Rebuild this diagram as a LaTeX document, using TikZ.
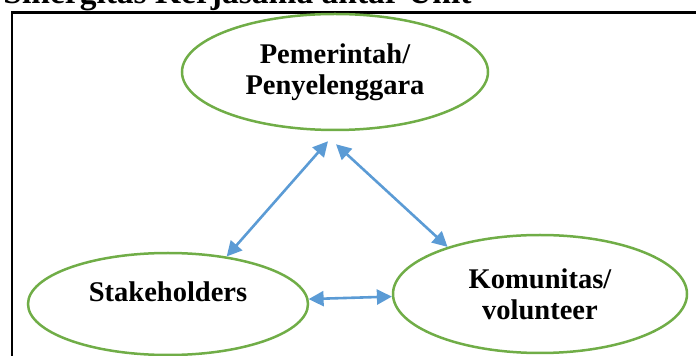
\documentclass[tikz,border=0pt]{standalone}
\usepackage{fontspec}
\setmainfont{Liberation Serif}
\usetikzlibrary{shapes.geometric,arrows.meta,calc}
\definecolor{ellGreen}{HTML}{70AD47}
\definecolor{arrBlue}{HTML}{5B9BD5}
\def\lineThickness{(2.6pt)}
\def\fScale{\fontsize{28.5}{31}\selectfont\bfseries}
\def\tipLen{15pt}
\tikzset{party/.style={draw=ellGreen,line width=2.5pt,ellipse,inner sep=0,align=center,font=\fScale}}
\tikzset{link/.style={draw=arrBlue,line width=\lineThickness,{Triangle[length=\tipLen,width=15pt]}-{Triangle[length=\tipLen,width=15pt]}}}

\begin{document}
\begin{tikzpicture}[x=1pt,y=1pt]
\useasboundingbox (0,0) rectangle (696,356);
\node[anchor=base east,font=\fontsize{33.5}{36}\selectfont\bfseries] (title) at (475,352.5) {Sinergitas Kerjasama antar Unit};
\draw[line width=2.2pt] (12,0)--(12,343.5)--(697,343.5);
\node[party,minimum width=306pt,minimum height=116pt] (gov) at (335,284) {Pemerintah/\\Penyelenggara};
\node[party,minimum width=280pt,minimum height=102pt,text height=19pt,text depth=23pt] (stake) at (168,52) {Stakeholders};
\node[party,minimum width=294pt,minimum height=118pt] (komu) at (540,62) {Komunitas/\\volunteer};
% arrows between the three parties
\draw[link] ([shift={(-7,-10)}]gov.south) -- (stake.39.5);
\draw[link] ([shift={(1,-13)}]gov.south) -- (komu.153);
\draw[link] (stake.2) -- (komu.181);
\end{tikzpicture}
\end{document}
